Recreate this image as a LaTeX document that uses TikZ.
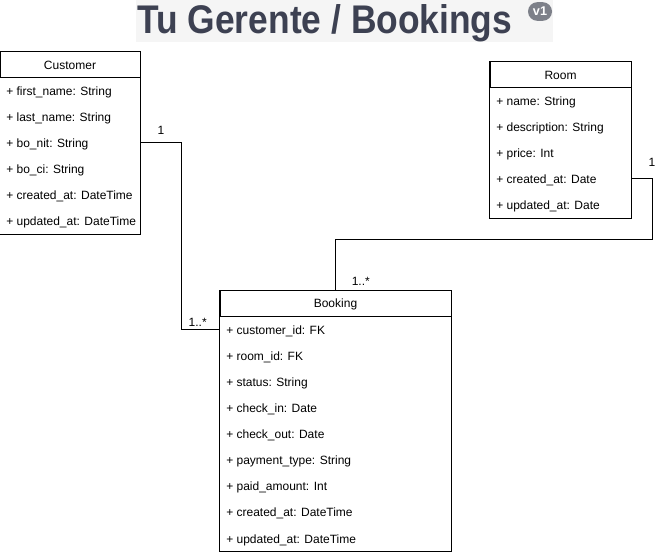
\documentclass[tikz,border=0pt]{standalone}
\usepackage{fontspec}
\setmainfont{Liberation Sans}
\newfontfamily\titlefont[FakeStretch=0.885]{Liberation Sans}
\usetikzlibrary{positioning, calc, fit}
\definecolor{tgTitle}{HTML}{3D4152}
\definecolor{tgBand}{HTML}{F5F5F5}
\definecolor{tgBadge}{HTML}{7D8089}
\newcommand{\umlfont}{\fontsize{9}{11}\selectfont}
\tikzset{
  cls-head/.style={
    rectangle, draw, fill=white, minimum height=19.5pt, inner sep=0pt,
    line width=0.75pt, font=\umlfont
  },
  cls-row/.style={
    rectangle, anchor=west, minimum height=19.5pt, inner sep=0pt,
    text height=8.5pt, text depth=1pt, font=\umlfont
  },
  cls-box/.style={rectangle, draw, line width=0.75pt, inner sep=0pt, fit=#1},
  rel-line/.style={draw, line width=0.75pt},
  mult/.style={font=\umlfont, inner sep=0pt},
}

\begin{document}
\begin{tikzpicture}[x=0.75pt, y=-0.75pt]
  \useasboundingbox[fill=white] (0,0) rectangle (671,555);

  % title band
  \fill[tgBand] (136,0) rectangle (553,42);
  \node[font=\titlefont\bfseries\fontsize{30}{32}\selectfont, text=tgTitle, anchor=base west, inner sep=0pt] (title) at (137,33.5) {Tu Gerente / Bookings};
  \node[rectangle, rounded corners=7pt, fill=tgBadge, text=white, minimum width=18pt, minimum height=14pt, inner sep=0pt, font=\bfseries\fontsize{9.5}{10}\selectfont] (badge) at (540,11.5) {v1};

  % Customer
  \node[cls-head, minimum width=105pt] (cust) at (70,65) {Customer};
  \foreach \f [count=\i] in {first\_name: String, last\_name: String, bo\_nit: String, bo\_ci: String, created\_at: DateTime, updated\_at: DateTime}
    \node[cls-row] (cust-\i) at (6,65+26*\i) {+ \f};
  \node[cls-box=(cust)(cust-6)] (cust-box) {};

  % Room
  \node[cls-head, minimum width=105.75pt] (room) at (560.5,75) {Room};
  \foreach \f [count=\i] in {name: String, description: String, price: Int, created\_at: Date, updated\_at: Date}
    \node[cls-row] (room-\i) at (496,75+26*\i) {+ \f};
  \node[cls-box=(room)(room-5)] (room-box) {};

  % Booking
  \node[cls-head, minimum width=173.25pt] (book) at (335.5,304) {Booking};
  \foreach \f [count=\i] in {customer\_id: FK, room\_id: FK, status: String, check\_in: Date, check\_out: Date, payment\_type: String, paid\_amount: Int, created\_at: DateTime, updated\_at: DateTime}
    \node[cls-row] (book-\i) at (226,304+26*\i) {+ \f};
  \node[cls-box=(book)(book-9)] (book-box) {};

  % relations
  \draw[rel-line] (cust-box.east |- cust-3) -- node[mult, above=6pt] {1} ++(40,0) |- (book-box.west |- book-1);
  \node[mult, anchor=south east] at ($(book-box.west |- book-1)+(-12,-3)$) {1..*};

  \draw[rel-line] (room-box.east |- room-4) -- ++(20,0) -- ++(0,61) -| (book.north);
  \node[mult, anchor=south] at ($(room-box.east |- room-4)+(20,-12)$) {1};
  \node[mult, anchor=south west] at ($(book.north)+(16,-5)$) {1..*};
\end{tikzpicture}
\end{document}
